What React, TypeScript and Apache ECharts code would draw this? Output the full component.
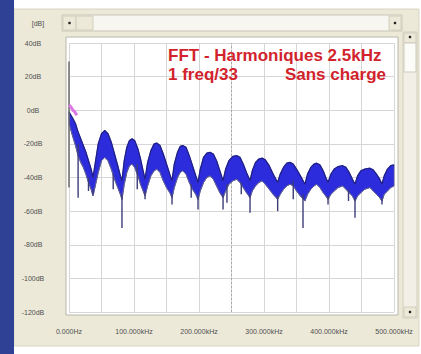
import React, { useEffect, useRef } from 'react';
import * as echarts from 'echarts';

// Spectrum envelope (frequency in kHz, level in dB)
const freqKHz = [
  0, 3, 6, 10, 14, 18, 22, 26, 30, 34, 37,
  41, 45, 50, 55, 60, 65, 70, 75, 79, 81.5,
  85, 89, 93, 97, 101, 106, 110, 114, 117,
  121, 126, 131, 135, 140, 145, 150, 155, 158.5,
  162, 167, 171, 175, 180, 185, 190, 195, 198.5,
  202, 207, 212, 217, 222, 227, 232, 237,
  241, 246, 252, 258, 263, 268, 273, 278.5,
  282, 287, 292, 297, 302, 308, 314, 321,
  325, 330, 335, 340, 345, 350, 356, 363,
  367, 372, 377, 381, 386, 391, 395, 398.5,
  403, 408, 414, 421, 426, 431, 436, 440,
  444, 449, 455, 463, 468, 473, 478, 481.5,
  485, 490, 495, 500,
];
const upperDb = [
  -1, -3, -5, -8, -13, -17, -21, -25, -30, -35, -40,
  -30, -20, -14, -12, -14, -19, -26, -33, -39, -42,
  -30, -22, -18, -17, -18, -23, -29, -36, -41,
  -31, -24, -20, -19.5, -21, -26, -32, -38, -42,
  -32, -25, -21.5, -21, -22, -27, -33, -39, -43,
  -35, -28, -25.5, -25, -26, -30, -36, -42,
  -35, -30, -27.5, -27, -28, -32, -37, -42,
  -36, -31, -29, -28.5, -29.5, -33, -38, -43,
  -38, -34, -31.5, -31, -32, -35, -39, -44,
  -38, -34, -32, -31.5, -32.5, -36, -40, -43,
  -38, -35, -33.5, -33, -34, -37, -41, -44,
  -39, -36, -35, -34.5, -35.5, -38, -41, -44,
  -39, -35, -33, -32.5,
];
const lowerDb = [
  -8, -12, -16, -21, -27, -31, -34, -38, -43, -47, -51,
  -44, -37, -30, -28, -30, -35, -41, -46, -50, -53,
  -44, -37, -33, -32, -34, -39, -44, -48, -51,
  -45, -39, -36, -35, -37, -42, -46, -49, -52,
  -46, -40, -37, -36, -38, -43, -47, -50, -53,
  -48, -43, -40, -39, -41, -45, -49, -52,
  -48, -44, -42, -41, -43, -46, -49, -52,
  -48, -45, -43, -42, -44, -47, -50, -53,
  -50, -47, -45, -44, -45, -48, -51, -54,
  -50, -47, -45, -44, -46, -49, -51, -53,
  -50, -48, -46, -45, -47, -49, -51, -54,
  -51, -49, -47, -46, -48, -50, -52, -54,
  -50, -48, -46, -45,
];

// Narrow nulls (spikes)
const nullKHz = [14, 30, 37, 68, 81.5, 105, 117, 158.5, 188, 198.5, 237, 243, 265, 278.5, 321, 345, 360, 398.5, 430, 440, 481.5];
const nullTopDb = [-20, -40, -47, -38, -50, -32, -48, -50, -44, -51, -50, -44, -43, -50, -51, -42, -50, -51, -47, -52, -52];
const nullBottomDb = [-52, -48, -50, -47, -70, -47, -53, -56, -52, -59, -59, -55, -50, -61, -60, -53, -70, -56, -54, -64, -56];

// DC line and pink trace at the start
const dcKHz = [0, 0];
const dcDb = [-46, 29];
const pinkKHz = [0, 3, 6, 9, 12];
const pinkDb = [3, 2, 0, -1, -3];

const xTickValues = [0, 100, 200, 300, 400, 500];
const xTickLabels = ['0.000Hz', '100.000kHz', '200.000kHz', '300.000kHz', '400.000kHz', '500.000kHz'];
const yTickValues = [40, 20, 0, -20, -40, -60, -80, -100, -120];
const yTickLabels = ['40dB', '20dB', '0dB', '-20dB', '-40dB', '-60dB', '-80dB', '-100dB', '-120dB'];

const FONT = '"Liberation Sans", Arial, sans-serif';
const titleStyle = { fontSize: 17, lineHeight: 16, fontWeight: 'bold', fontFamily: FONT, fill: '#d2232d', textVerticalAlign: 'middle' };

export default function App() {
  const ref = useRef<HTMLDivElement>(null);
  useEffect(() => {
    const chart = echarts.init(ref.current!, null, { renderer: 'svg' });
    const option: any = {
      animation: false,
      backgroundColor: '#ffffff',
      grid: { left: 69, right: 27, top: 43, bottom: 42, show: false },
      xAxis: {
        type: 'value', min: 0, max: 500, interval: 50,
        axisLine: { show: false }, axisTick: { show: false },
        splitLine: { show: true, lineStyle: { color: '#d6d6d6', width: 1 } },
        axisLabel: {
          margin: 16, fontSize: 7, color: '#505050', fontFamily: FONT,
          formatter: (v: number) => {
            const i = xTickValues.indexOf(v);
            return i >= 0 ? xTickLabels[i] : '';
          },
        },
      },
      yAxis: {
        type: 'value', min: -120, max: 40, interval: 20,
        axisLine: { show: false }, axisTick: { show: false },
        splitLine: { show: true, lineStyle: { color: '#d6d6d6', width: 1 } },
        axisLabel: {
          margin: 36, align: 'center', fontSize: 7, color: '#505050', fontFamily: FONT,
          formatter: (v: number) => {
            const i = yTickValues.indexOf(v);
            return i >= 0 ? yTickLabels[i] : '';
          },
        },
      },
      graphic: [
        { type: 'rect', z: -100, shape: { x: 0, y: 0, width: 421, height: 354 }, style: { fill: '#ffffff' } },
        { type: 'rect', z: -99, shape: { x: 14, y: 9, width: 405, height: 337 }, style: { fill: '#ece9d8', stroke: '#d8d4c2' } },
        { type: 'rect', z: -99, shape: { x: 0, y: 0, width: 14, height: 354 }, style: { fill: '#2f4194' } },
        { type: 'rect', z: -98, shape: { x: 66, y: 37, width: 332, height: 278 }, style: { fill: '#ffffff', stroke: '#b8b6aa', lineWidth: 1 } },
        // horizontal scrollbar
        { type: 'rect', z: 10, shape: { x: 62, y: 15, width: 340, height: 16 }, style: { fill: '#f7f6f1', stroke: '#c9c5b4' } },
        { type: 'rect', z: 11, shape: { x: 63, y: 16, width: 13, height: 14 }, style: { fill: '#ece9d8', stroke: '#d2cebd' } },
        { type: 'circle', z: 12, shape: { cx: 69.5, cy: 23, r: 1.3 }, style: { fill: '#222' } },
        { type: 'rect', z: 11, shape: { x: 76, y: 16, width: 17, height: 14 }, style: { fill: '#ece9d8', stroke: '#d2cebd' } },
        { type: 'rect', z: 11, shape: { x: 389, y: 16, width: 12, height: 14 }, style: { fill: '#ece9d8', stroke: '#d2cebd' } },
        { type: 'circle', z: 12, shape: { cx: 395, cy: 23, r: 1.3 }, style: { fill: '#222' } },
        // vertical scrollbar
        { type: 'rect', z: 10, shape: { x: 403, y: 32, width: 14, height: 286 }, style: { fill: '#f1efe6', stroke: '#d2cebd' } },
        { type: 'rect', z: 11, shape: { x: 404, y: 33, width: 12, height: 10 }, style: { fill: '#ece9d8', stroke: '#d2cebd' } },
        { type: 'circle', z: 12, shape: { cx: 410, cy: 37, r: 1.3 }, style: { fill: '#222' } },
        { type: 'rect', z: 11, shape: { x: 404, y: 43, width: 12, height: 29 }, style: { fill: '#fbfbf8', stroke: '#cfcbba' } },
        { type: 'rect', z: 11, shape: { x: 404, y: 307, width: 12, height: 10 }, style: { fill: '#ece9d8', stroke: '#d2cebd' } },
        { type: 'circle', z: 12, shape: { cx: 410, cy: 312, r: 1.3 }, style: { fill: '#222' } },
        // texts
        { type: 'text', z: 20, x: 38, y: 23, style: { text: '[dB]', fontSize: 7, fontFamily: FONT, fill: '#505050', textAlign: 'center', textVerticalAlign: 'middle' } },
        { type: 'text', z: 20, x: 168, y: 55, style: { ...titleStyle, text: 'FFT - Harmoniques 2.5kHz', textAlign: 'left' } },
        { type: 'text', z: 20, x: 168, y: 74, style: { ...titleStyle, text: '1 freq/33', textAlign: 'left' } },
        { type: 'text', z: 20, x: 386, y: 74, style: { ...titleStyle, text: 'Sans charge', textAlign: 'right' } },
      ],
      series: [
        {
          type: 'line', name: 'centre', data: [[250, -120], [250, 40]], showSymbol: false, silent: true,
          lineStyle: { color: '#a9a9a9', width: 1, type: [2, 2] }, z: 1,
        },
        {
          type: 'custom', name: 'bande', z: 3, silent: true,
          data: [[0, 0]],
          renderItem: (_p: any, api: any) => {
            const top = freqKHz.map((f, i) => api.coord([f, upperDb[i]]));
            const bot = freqKHz.map((f, i) => api.coord([f, lowerDb[i]])).reverse();
            return { type: 'polygon', shape: { points: top.concat(bot) }, style: { fill: '#2c2cdc', stroke: '#50509e', lineWidth: 0.8 } };
          },
        },
        {
          type: 'line', name: 'max', z: 4, showSymbol: false, silent: true,
          data: freqKHz.map((f, i) => [f, upperDb[i]]),
          lineStyle: { color: '#1e1e8c', width: 1.3 },
        },
        {
          type: 'line', name: 'min', z: 4, showSymbol: false, silent: true,
          data: freqKHz.map((f, i) => [f, lowerDb[i]]),
          lineStyle: { color: '#5c5c98', width: 1 },
        },
        {
          type: 'custom', name: 'nuls', z: 5, silent: true,
          data: nullKHz.map((k, i) => [k, nullTopDb[i], nullBottomDb[i]]),
          encode: { x: 0, y: [1, 2] },
          renderItem: (_p: any, api: any) => {
            const a = api.coord([api.value(0), api.value(1)]);
            const b = api.coord([api.value(0), api.value(2)]);
            return { type: 'line', shape: { x1: a[0], y1: a[1], x2: b[0], y2: b[1] }, style: { stroke: '#3c3c78', lineWidth: 1.4 } };
          },
        },
        {
          type: 'line', name: 'dc', z: 6, showSymbol: false, silent: true,
          data: dcKHz.map((k, i) => [k, dcDb[i]]),
          lineStyle: { color: '#6a6a6a', width: 1.5 },
        },
        {
          type: 'line', name: 'rose', z: 6, showSymbol: false, silent: true,
          data: pinkKHz.map((k, i) => [k, pinkDb[i]]),
          lineStyle: { color: '#dd77e6', width: 3 },
        },
      ],
    };
    chart.setOption(option);
    return () => chart.dispose();
  }, []);
  return <div ref={ref} style={{ position: 'absolute', left: 0, top: 0, width: 421, height: 354 }} />;
}
